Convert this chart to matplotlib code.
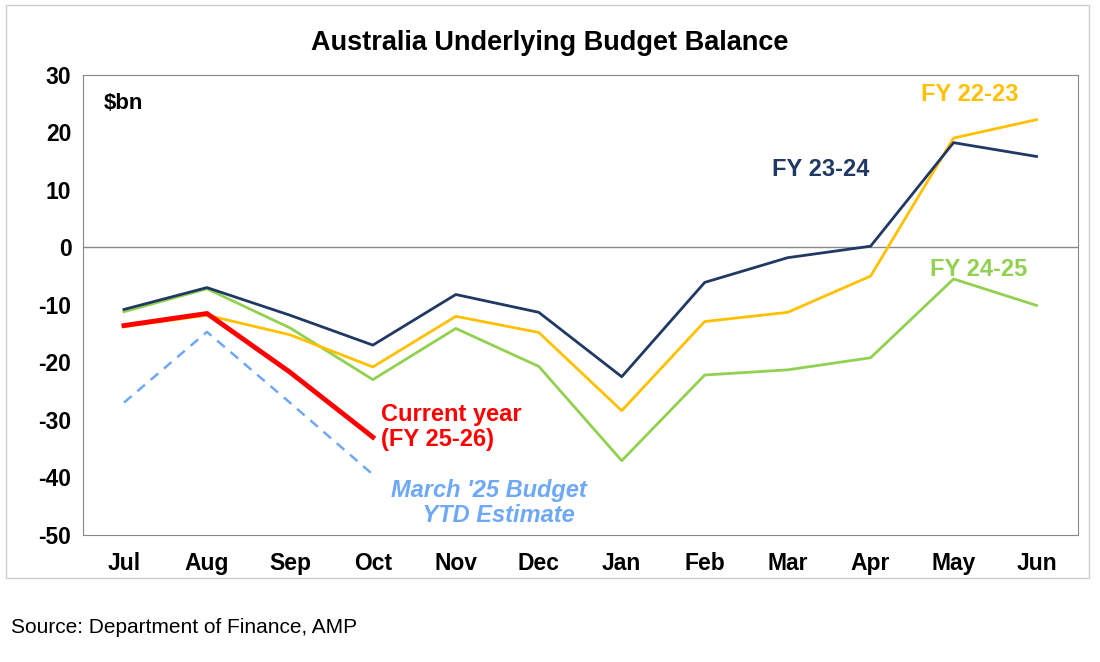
import matplotlib.pyplot as plt
import matplotlib.patches as mpatches

plt.rcParams['font.family'] = ['Liberation Sans', 'DejaVu Sans']
plt.rcParams['axes.unicode_minus'] = False

months = ['Jul', 'Aug', 'Sep', 'Oct', 'Nov', 'Dec', 'Jan', 'Feb', 'Mar', 'Apr', 'May', 'Jun']
fy2223 = [-13.8, -11.8, -15.2, -20.8, -12.0, -14.8, -28.4, -12.9, -11.3, -5.0, 19.0, 22.2]
fy2324 = [-10.8, -7.0, -11.8, -17.0, -8.2, -11.3, -22.5, -6.1, -1.8, 0.2, 18.2, 15.8]
fy2425 = [-11.2, -7.2, -14.0, -23.0, -14.1, -20.7, -37.1, -22.2, -21.3, -19.2, -5.5, -10.1]
current = [-13.6, -11.5, -21.7, -33.0]
budget = [-27.0, -14.7, -27.0, -39.5]

fig = plt.figure(figsize=(11, 6.62), dpi=100)
ax = fig.add_axes([0.075, 0.192, 0.905, 0.695])
x = range(len(months))

ax.axhline(0, color='#888888', lw=1)
ax.plot(x, fy2425, color='#92D050', lw=2)
ax.plot(x, fy2223, color='#FFC000', lw=2)
ax.plot(x, fy2324, color='#1F3864', lw=2)
ax.plot(range(4), budget, color='#6FA8F5', lw=1.8, ls=(0, (4, 3)))
ax.plot(range(4), current, color='#FF0000', lw=3.5)

ax.set_xlim(-0.5, 11.5)
ax.set_ylim(-50, 30)
ax.set_yticks(range(-50, 31, 10))
ax.set_xticks(list(x))
ax.set_xticklabels(months)
ax.tick_params(axis='both', labelsize=16.5, length=0, pad=8)
ax.tick_params(axis='x', pad=12)
for t in ax.get_xticklabels() + ax.get_yticklabels():
    t.set_fontweight('bold')
for s in ax.spines.values():
    s.set_color('#888888')

ax.text(-0.25, 25, '$bn', fontsize=16, fontweight='bold', va='center')
ax.text(10.2, 26.5, 'FY 22-23', color='#FFC000', fontsize=17, fontweight='bold', ha='center', va='center')
ax.text(8.4, 13.5, 'FY 23-24', color='#1F3864', fontsize=17, fontweight='bold', ha='center', va='center')
ax.text(10.3, -3.8, 'FY 24-25', color='#92D050', fontsize=17, fontweight='bold', ha='center', va='center')
ax.text(3.1, -31.2, 'Current year\n(FY 25-26)', color='#FF0000', fontsize=17, fontweight='bold',
        ha='left', va='center', linespacing=1.1)
ax.text(4.4, -44.5, "March '25 Budget\n   YTD Estimate", color='#6FA8F5', fontsize=17, fontweight='bold',
        style='italic', ha='center', va='center', linespacing=1.1)

fig.text(0.5, 0.935, 'Australia Underlying Budget Balance', fontsize=19.5, fontweight='bold', ha='center', va='center')
fig.text(0.01, 0.052, 'Source: Department of Finance, AMP', fontsize=15, va='center')
fig.patches.append(mpatches.Rectangle((0.005, 0.127), 0.985, 0.865, transform=fig.transFigure,
                                      fill=False, edgecolor='#CCCCCC', lw=1))

fig.savefig('out.png', dpi=100)
